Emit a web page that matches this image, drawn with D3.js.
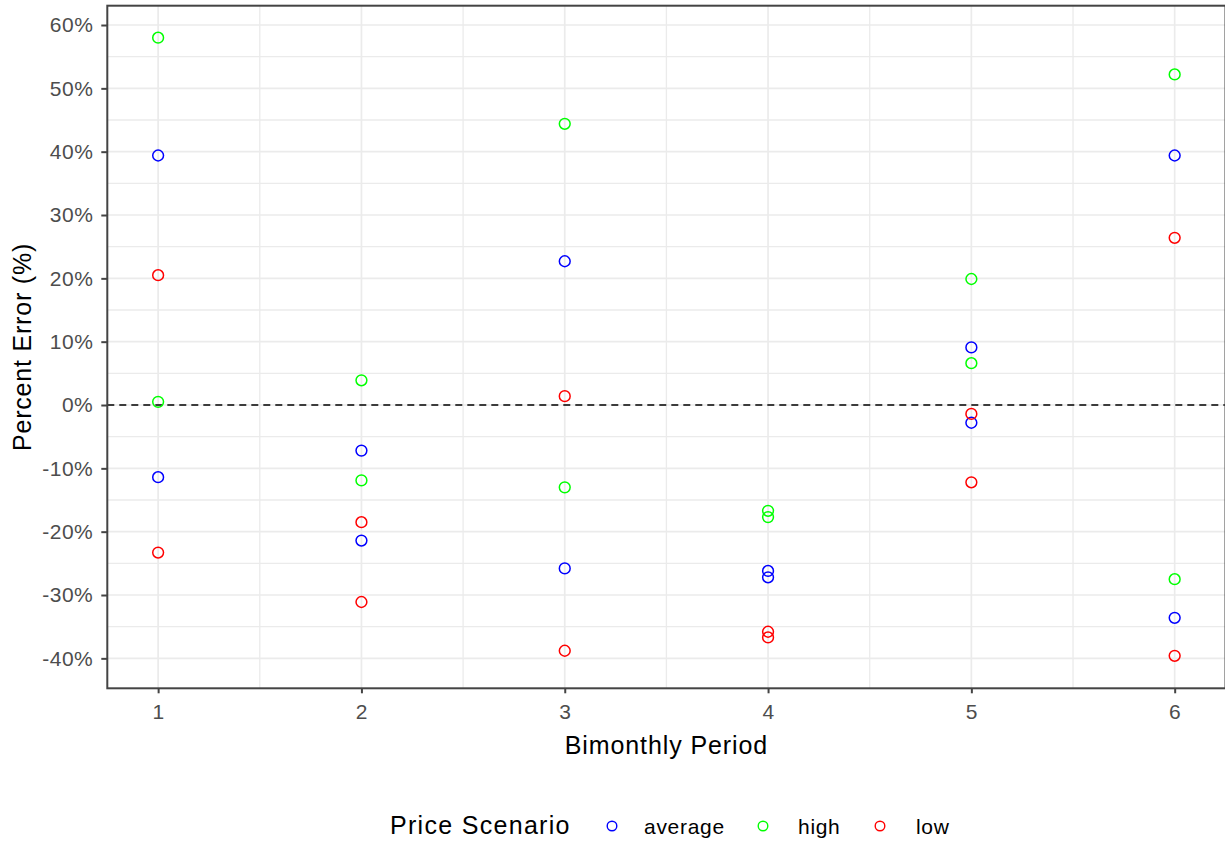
<!DOCTYPE html>
<html>
<head>
<meta charset="utf-8">
<script src="https://cdn.jsdelivr.net/npm/d3@7"></script>
<style>
  html, body { margin: 0; padding: 0; background: #fff; }
  svg { display: block; font-family: "Liberation Sans", Arial, sans-serif; }
</style>
</head>
<body>
<svg id="chart" width="1225" height="841"></svg>
<script>
// Bimonthly periods on the x axis
const periods = [1, 2, 3, 4, 5, 6];

// Percent error per period, two estimates for each price scenario
const averageUpper = [39.4, -7.2, 22.7, -26.2, 9.1, 39.4];
const averageLower = [-11.4, -21.4, -25.8, -27.2, -2.8, -33.6];
const highUpper = [58.0, 3.9, 44.4, -16.7, 19.9, 52.2];
const highLower = [0.5, -11.9, -13.0, -17.7, 6.6, -27.5];
const lowUpper = [20.5, -18.5, 1.4, -35.8, -1.4, 26.4];
const lowLower = [-23.3, -31.1, -38.8, -36.7, -12.2, -39.6];

const scenarios = ["average", "high", "low"];
const scenarioColors = ["#0000FF", "#00FF00", "#FF0000"];

const yTicks = [-40, -30, -20, -10, 0, 10, 20, 30, 40, 50, 60];
const yMinor = [-45, -35, -25, -15, -5, 5, 15, 25, 35, 45, 55];
const xMinor = [1.5, 2.5, 3.5, 4.5, 5.5];

const seriesList = [
  { scenario: "average", values: averageUpper },
  { scenario: "average", values: averageLower },
  { scenario: "high", values: highUpper },
  { scenario: "high", values: highLower },
  { scenario: "low", values: lowUpper },
  { scenario: "low", values: lowLower }
];

const points = [];
seriesList.forEach(s => {
  s.values.forEach((v, i) => points.push({ period: periods[i], value: v, scenario: s.scenario }));
});

const svg = d3.select("#chart");
const panel = { left: 107.3, right: 1225.5, top: 5.7, bottom: 688.3 };

const x = d3.scaleLinear().domain([0.75, 6.25]).range([panel.left, panel.right]);
const y = d3.scaleLinear().domain([-44.73, 63.05]).range([panel.bottom, panel.top]);
const color = d3.scaleOrdinal().domain(scenarios).range(scenarioColors);

svg.append("rect").attr("width", 1225).attr("height", 841).attr("fill", "#fff");

// grid
const grid = svg.append("g");
grid.selectAll("line.ymin").data(yMinor.filter(d => y(d) > panel.top && y(d) < panel.bottom))
  .join("line").attr("x1", panel.left).attr("x2", panel.right)
  .attr("y1", d => y(d)).attr("y2", d => y(d))
  .attr("stroke", "#EBEBEB").attr("stroke-width", 1.3);
grid.selectAll("line.xmin").data(xMinor)
  .join("line").attr("x1", d => x(d)).attr("x2", d => x(d))
  .attr("y1", panel.top).attr("y2", panel.bottom)
  .attr("stroke", "#EBEBEB").attr("stroke-width", 1.3);
grid.selectAll("line.ymaj").data(yTicks)
  .join("line").attr("x1", panel.left).attr("x2", panel.right)
  .attr("y1", d => y(d)).attr("y2", d => y(d))
  .attr("stroke", "#EBEBEB").attr("stroke-width", 1.7);
grid.selectAll("line.xmaj").data(periods)
  .join("line").attr("x1", d => x(d)).attr("x2", d => x(d))
  .attr("y1", panel.top).attr("y2", panel.bottom)
  .attr("stroke", "#EBEBEB").attr("stroke-width", 1.7);

// zero reference line
svg.append("line")
  .attr("x1", panel.left).attr("x2", panel.right)
  .attr("y1", y(0)).attr("y2", y(0))
  .attr("stroke", "#000").attr("stroke-width", 1.5)
  .attr("stroke-dasharray", "7,5");

// points
svg.append("g").selectAll("circle").data(points).join("circle")
  .attr("cx", d => x(d.period)).attr("cy", d => y(d.value))
  .attr("r", 5.4).attr("fill", "none")
  .attr("stroke", d => color(d.scenario)).attr("stroke-width", 1.5);

// panel border
svg.append("rect")
  .attr("x", panel.left).attr("y", panel.top)
  .attr("width", panel.right - panel.left).attr("height", panel.bottom - panel.top)
  .attr("fill", "none").attr("stroke", "#444").attr("stroke-width", 2);

// axes
const yAxis = svg.append("g").attr("transform", `translate(${panel.left},0)`)
  .call(d3.axisLeft(y).tickValues(yTicks).tickFormat(d => d + "%").tickSize(6).tickPadding(8));
const xAxis = svg.append("g").attr("transform", `translate(0,${panel.bottom})`)
  .call(d3.axisBottom(x).tickValues(periods).tickFormat(d3.format("d")).tickSize(5).tickPadding(11));

[yAxis, xAxis].forEach(g => {
  g.select(".domain").remove();
  g.selectAll(".tick line").attr("stroke", "#444").attr("stroke-width", 2);
  g.selectAll(".tick text").attr("fill", "#4D4D4D")
    .style("font-size", "21px").style("letter-spacing", "0.5px")
    .style("font-family", "'Liberation Sans', Arial, sans-serif");
});

// axis titles
svg.append("text")
  .attr("x", (panel.left + panel.right) / 2).attr("y", 754)
  .attr("text-anchor", "middle").attr("fill", "#000")
  .style("font-size", "25px").style("letter-spacing", "0.9px")
  .text("Bimonthly Period");

svg.append("text")
  .attr("transform", `translate(31,${(panel.top + panel.bottom) / 2}) rotate(-90)`)
  .attr("text-anchor", "middle").attr("fill", "#000")
  .style("font-size", "25px").style("letter-spacing", "0.8px")
  .text("Percent Error (%)");

// legend
const legend = svg.append("g");
legend.append("text")
  .attr("x", 390).attr("y", 834).attr("fill", "#000")
  .style("font-size", "25px").style("letter-spacing", "1.3px")
  .text("Price Scenario");

const legendCircleX = [612, 763, 880];
const legendTextX = [644, 798, 916];
scenarios.forEach((s, i) => {
  legend.append("circle")
    .attr("cx", legendCircleX[i]).attr("cy", 826).attr("r", 4.8)
    .attr("fill", "none").attr("stroke", color(s)).attr("stroke-width", 1.4);
  legend.append("text")
    .attr("x", legendTextX[i]).attr("y", 833.5).attr("fill", "#000")
    .style("font-size", "21px").style("letter-spacing", "0.7px")
    .text(s);
});
</script>
</body>
</html>
